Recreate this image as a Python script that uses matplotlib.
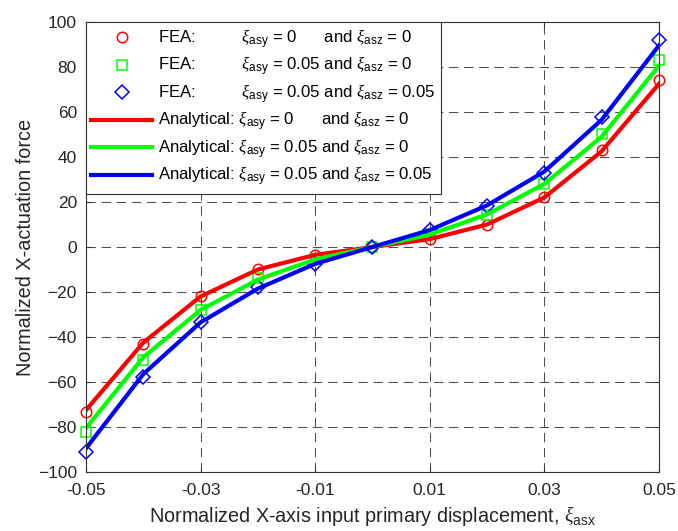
import matplotlib
matplotlib.use("Agg")
import matplotlib.pyplot as plt

plt.rcParams['font.family'] = ['Liberation Sans', 'DejaVu Sans']
plt.rcParams['mathtext.fontset'] = 'custom'
plt.rcParams['mathtext.rm'] = 'Liberation Sans'
plt.rcParams['mathtext.it'] = 'Liberation Serif:italic'

# displacement samples
xi_asx = [-0.05, -0.04, -0.03, -0.02, -0.01, 0.0, 0.01, 0.02, 0.03, 0.04, 0.05]

# FEA results
fea_0_0 = [-73.5, -43, -22, -9.7, -3.4, 0, 3.6, 9.8, 22.3, 43, 74]
fea_05_0 = [-82, -50, -28, -14, -5.3, 0, 5.8, 14, 28, 50, 83]
fea_05_05 = [-91, -57.6, -33.3, -18, -7.5, 0, 7.6, 18, 33, 57.7, 91.8]

# analytical model
ana_0_0 = [-72.5, -42.5, -22, -10, -3.5, 0, 3.5, 10, 22, 42.5, 72.5]
ana_05_0 = [-80.5, -49, -28, -14.5, -5.5, 0, 5.5, 14.5, 28, 49, 80.5]
ana_05_05 = [-89.5, -56.5, -33.5, -18.5, -7.5, 0, 7.5, 18.5, 33.5, 56.5, 89.5]

xticks = [-0.05, -0.03, -0.01, 0.01, 0.03, 0.05]
xticklabels = ['-0.05', '-0.03', '-0.01', '0.01', '0.03', '0.05']
yticks = list(range(-100, 101, 20))

lab_fea = [
    r'FEA:          $\xi_{\mathrm{asy}}$ = 0      and $\xi_{\mathrm{asz}}$ = 0',
    r'FEA:          $\xi_{\mathrm{asy}}$ = 0.05 and $\xi_{\mathrm{asz}}$ = 0',
    r'FEA:          $\xi_{\mathrm{asy}}$ = 0.05 and $\xi_{\mathrm{asz}}$ = 0.05',
]
lab_ana = [
    r'Analytical: $\xi_{\mathrm{asy}}$ = 0      and $\xi_{\mathrm{asz}}$ = 0',
    r'Analytical: $\xi_{\mathrm{asy}}$ = 0.05 and $\xi_{\mathrm{asz}}$ = 0',
    r'Analytical: $\xi_{\mathrm{asy}}$ = 0.05 and $\xi_{\mathrm{asz}}$ = 0.05',
]

fig = plt.figure(figsize=(6.78, 5.31), dpi=100)
ax = fig.add_axes([0.1268, 0.1111, 0.845, 0.8475])

ax.plot(xi_asx, fea_0_0, 'o', color='#ff0000', mfc='none', ms=7.5, mew=1.1, ls='none',
        clip_on=False, label=lab_fea[0])
ax.plot(xi_asx, fea_05_0, 's', color='#00ff00', mfc='none', ms=6.5, mew=1.1, ls='none',
        clip_on=False, label=lab_fea[1])
ax.plot(xi_asx, fea_05_05, 'D', color='#0000ff', mfc='none', ms=7, mew=1.1, ls='none',
        clip_on=False, label=lab_fea[2])
ax.plot(xi_asx, ana_0_0, '-', color='#ff0000', lw=3, label=lab_ana[0])
ax.plot(xi_asx, ana_05_0, '-', color='#00ff00', lw=3, label=lab_ana[1])
ax.plot(xi_asx, ana_05_05, '-', color='#0000ff', lw=3, label=lab_ana[2])

ax.set_xlim(-0.05, 0.05)
ax.set_ylim(-100, 100)
ax.set_xticks(xticks)
ax.set_xticklabels(xticklabels)
ax.set_yticks(yticks)
ax.tick_params(direction='in', length=3.6, top=True, right=True, labelsize=12.5,
               color='#333333', labelcolor='#262626')
ax.tick_params(axis='x', pad=8)
ax.tick_params(axis='y', pad=6.5)
for sp in ax.spines.values():
    sp.set_color('#333333')
    sp.set_linewidth(0.8)

ax.grid(True, color='#4d4d4d', linestyle=(0, (9, 5.5)), linewidth=0.75)

ax.set_xlabel(r'Normalized X-axis input primary displacement, $\xi_{\mathrm{asx}}$',
              fontsize=14.3, color='#262626', labelpad=4)
ax.set_ylabel('Normalized X-actuation force', fontsize=14.3, color='#262626', labelpad=2)

leg = ax.legend(loc='upper left', bbox_to_anchor=(0, 1), borderaxespad=0, fontsize=12.1,
                handlelength=3.6, handletextpad=0.35, labelspacing=0.25, borderpad=0.32,
                fancybox=False, framealpha=1, edgecolor='#333333')
leg.get_frame().set_linewidth(0.8)

fig.savefig('out.png', dpi=100)
